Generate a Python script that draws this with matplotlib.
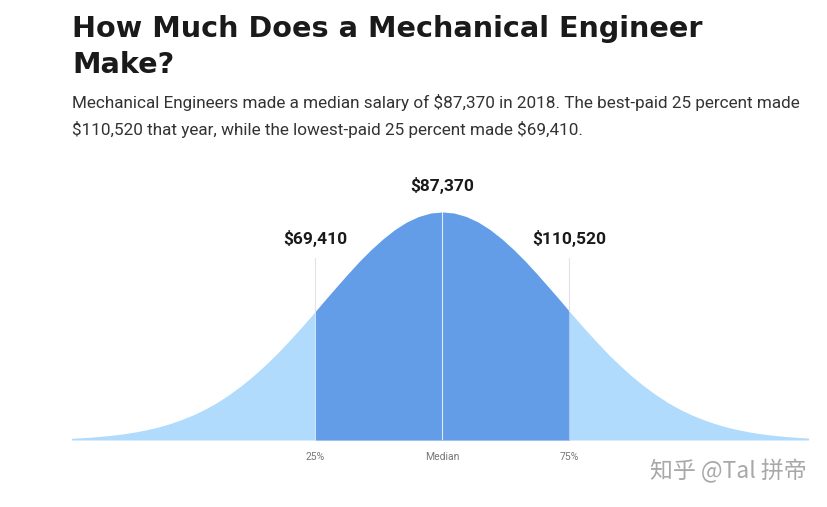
import numpy as np
import matplotlib
matplotlib.use('Agg')
import matplotlib.pyplot as plt

# ---- 数据----
# 曲线高度（相对峰值），采样位置以标准差为单位，仅右半边，左右对称
half_pos = [0.0, 0.1, 0.2, 0.3, 0.4, 0.5, 0.6, 0.7, 0.8, 0.9, 1.0, 1.07, 1.1,
            1.2, 1.3, 1.4, 1.5, 1.6, 1.7, 1.8, 1.9, 2.0, 2.1, 2.2, 2.3, 2.4,
            2.5, 2.6, 2.7, 2.8, 2.9, 3.0, 3.1, 3.2]
half_height = [1.000, 0.995, 0.980, 0.956, 0.923, 0.882, 0.835, 0.783, 0.726,
               0.667, 0.607, 0.564, 0.546, 0.487, 0.430, 0.375, 0.325, 0.278,
               0.236, 0.198, 0.164, 0.135, 0.110, 0.089, 0.071, 0.056, 0.044,
               0.034, 0.026, 0.020, 0.015, 0.011, 0.008, 0.006]
quartile_pos = [-1.07, 0.0, 1.07]
salary_labels = ['$69,410', '$87,370', '$110,520']
tick_labels = ['25%', 'Median', '75%']

title = ['How Much Does a Mechanical Engineer', 'Make?']
subtitle = [r'Mechanical Engineers made a median salary of \$87,370 in 2018. The best-paid 25 percent made',
            r'\$110,520 that year, while the lowest-paid 25 percent made \$69,410.']

LIGHT = '#b1dbfc'
DARK = '#639de8'

W, H = 828, 507
fig = plt.figure(figsize=(W / 100, H / 100), dpi=100)


def px(x, y):
    return x / W, 1 - y / H


# 绘图区：左 72 右 808，底 440，峰值 212
ax = fig.add_axes([72 / W, 1 - 440 / H, (808 - 72) / W, (440 - 212) / H])
x = np.array([-p for p in half_pos[::-1]] + half_pos[1:])
y = np.array(half_height[::-1] + half_height[1:])

ax.fill_between(x, 0, y, color=LIGHT, lw=0)
inner = (x >= quartile_pos[0] - 1e-9) & (x <= quartile_pos[2] + 1e-9)
ax.fill_between(x[inner], 0, y[inner], color=DARK, lw=0)

for q in quartile_pos:
    h = np.interp(q, x, y)
    top = 1.03 if q == 0 else 0.80
    ax.plot([q, q], [h, top], color='#e2e2e2', lw=0.8, zorder=3)
    ax.plot([q, q], [0, h], color='white', lw=0.8, alpha=0.8 if q == 0 else 0.4, zorder=3)

ax.set_xlim(-3.12, 3.08)
ax.set_ylim(0, 1)
ax.axis('off')

# 数值标签
label_y = [244, 191, 244]
for q, lab, ly in zip(quartile_pos, salary_labels, label_y):
    xf = ax.transData.transform((q, 0))[0] / W
    fig.text(xf, 1 - ly / H, lab.replace('$', r'\$'), ha='center', va='baseline',
             fontsize=12.5, fontweight='bold', family='Roboto', color='#1a1a1a')
for q, lab in zip(quartile_pos, tick_labels):
    xf = ax.transData.transform((q, 0))[0] / W
    fig.text(xf, 1 - 457 / H, lab, ha='center', va='center', fontsize=7.5,
             family='Roboto', color='#777777')

# 标题和说明
fig.text(*px(72, 37), title[0], fontsize=20.6, fontweight='bold',
         family='DejaVu Sans', color='#1a1a1a', va='baseline')
fig.text(*px(72, 73), title[1], fontsize=20.6, fontweight='bold',
         family='DejaVu Sans', color='#1a1a1a', va='baseline')
fig.text(*px(72, 108), subtitle[0], fontsize=12.3, family='Roboto', color='#333333', va='baseline')
fig.text(*px(72, 135), subtitle[1], fontsize=12.3, family='Roboto', color='#333333', va='baseline')

# 水印
fig.text(*px(807, 471), '知乎 @Tal 拼帝', fontsize=16.5, ha='right', va='center',
         family=['Noto Sans CJK SC', 'DejaVu Sans'], fontweight='light', color='#a8a8a8')

fig.savefig('out.png', dpi=100)
